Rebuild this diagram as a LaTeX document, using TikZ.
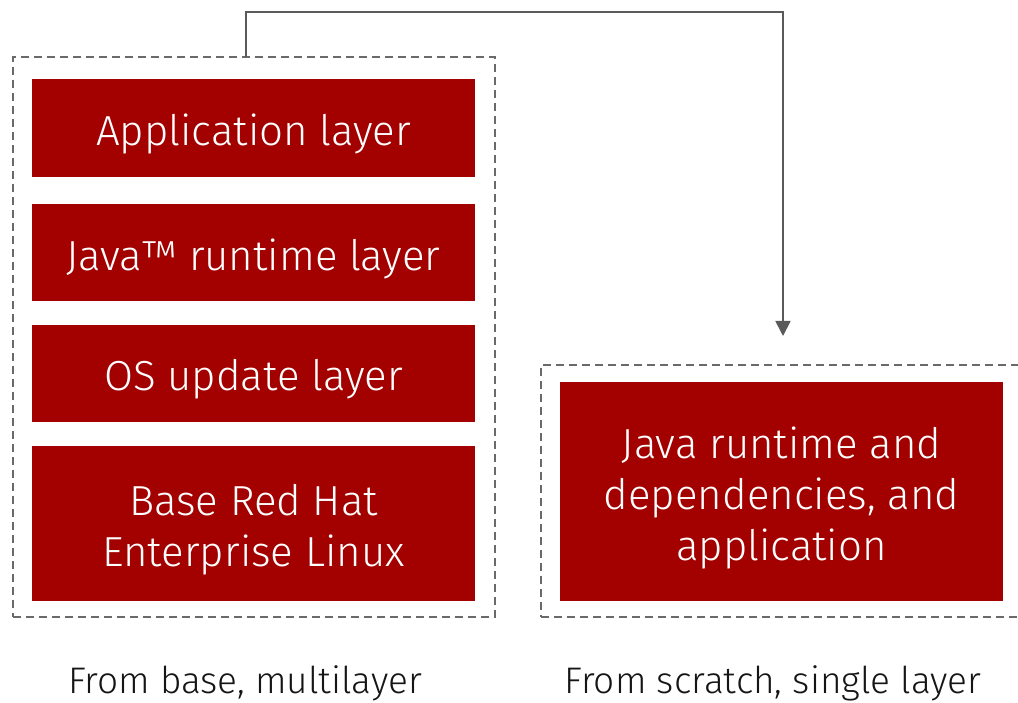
\documentclass[tikz,border=0pt]{standalone}
\usepackage{fontspec}
\setmainfont{Fira Sans Light}
\usetikzlibrary{arrows.meta}
\definecolor{rhred}{HTML}{A30000}
\definecolor{dashgray}{HTML}{6A6A6A}
\definecolor{arrowgray}{HTML}{5A5A5A}
\definecolor{labelblack}{HTML}{151515}
\tikzset{
  layerbox/.style={fill=rhred, draw=none, minimum width=443pt, inner sep=0pt},
  boxtext/.style={text=white, align=center, inner sep=0pt, font=\fontsize{42}{51}\selectfont},
  container/.style={draw=dashgray, line width=1.6pt, dash pattern=on 8pt off 5pt, inner sep=0pt},
  caption/.style={text=labelblack, font=\fontsize{37}{44}\selectfont, inner sep=0pt},
  flow/.style={draw=arrowgray, line width=1.8pt, -{Triangle[length=15pt,width=15pt]}}
}
\begin{document}
\begin{tikzpicture}[x=1pt,y=-1pt]
\useasboundingbox (0,0) rectangle (1018,703);
\node[container, minimum width=482pt, minimum height=560pt] (L) at (254,337) {};
\node[container, minimum width=490pt, minimum height=252pt] (R) at (786,491) {};
\node[layerbox, minimum height=98pt] (app) at (253.5,128) {};
\node[layerbox, minimum height=97pt] (java) at (253.5,252.5) {};
\node[layerbox, minimum height=97pt] (os) at (253.5,373.5) {};
\node[layerbox, minimum height=155pt] (base) at (253.5,523.5) {};
\node[layerbox, minimum height=219pt] (single) at (781.5,491.5) {};
\node[boxtext] (appT) at ([yshift=-6pt]app.center) {Application layer};
\node[boxtext] (javaT) at ([yshift=-6pt]java.center) {Java™ runtime layer};
\node[boxtext] (osT) at ([yshift=-6pt]os.center) {OS update layer};
\node[boxtext] (baseT) at ([yshift=-6pt]base.center) {Base Red Hat\\Enterprise Linux};
\node[boxtext] (singleT) at ([yshift=-6pt]single.center) {Java runtime and\\dependencies, and\\application};
\node[caption, anchor=base] (capL) at (245,693) {From base, multilayer};
\node[caption, anchor=base] (capR) at (773,693) {From scratch, single layer};
\coordinate (start) at (246,57);
\coordinate (end) at (783,336);
\draw[flow] (start) |- (783,12) -- (end);
\end{tikzpicture}
\end{document}
